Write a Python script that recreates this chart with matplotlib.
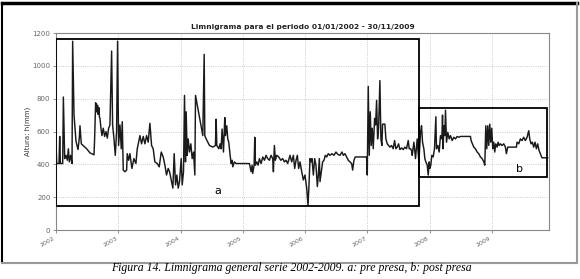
import matplotlib.pyplot as plt
from matplotlib.lines import Line2D
from matplotlib.patches import Rectangle
import numpy as np

t_2002 = [2002.000, 2002.011, 2002.048, 2002.059, 2002.070, 2002.107, 2002.118, 2002.139, 2002.160, 2002.182,
          2002.198, 2002.214, 2002.235, 2002.257, 2002.267, 2002.289, 2002.321, 2002.353, 2002.374, 2002.385,
          2002.406, 2002.492, 2002.545, 2002.610, 2002.620, 2002.636, 2002.642, 2002.648, 2002.654, 2002.663,
          2002.668, 2002.674, 2002.684, 2002.690, 2002.697, 2002.706, 2002.722,
          2002.738, 2002.759, 2002.781, 2002.802, 2002.824, 2002.845, 2002.866, 2002.882, 2002.893, 2002.909,
          2002.930, 2002.952, 2002.973, 2002.989, 2003.005, 2003.027, 2003.048, 2003.064, 2003.080, 2003.107,
          2003.134, 2003.144, 2003.166, 2003.187, 2003.219, 2003.251, 2003.283, 2003.305, 2003.326, 2003.348,
          2003.374, 2003.401, 2003.428, 2003.455, 2003.481, 2003.508, 2003.535, 2003.561, 2003.588, 2003.626,
          2003.658, 2003.690, 2003.722, 2003.749, 2003.775, 2003.802]
h_2002 = [525, 405, 405, 570, 405, 405, 810, 435, 455, 425,
          495, 415, 455, 405, 1150, 700, 540, 490, 560, 635,
          525, 495, 470, 458, 555, 775, 740, 770, 720, 750,
          760, 705, 720, 745, 690, 680, 620,
          575, 620, 570, 600, 560, 620, 640, 920, 1090, 640,
          560, 455, 600, 1150, 515, 640, 495, 660, 365, 355,
          365, 465, 425, 465, 375, 435, 405, 495, 535, 575,
          525, 570, 525, 575, 535, 650, 515, 495, 415, 405,
          385, 475, 445, 395, 335, 375]

t_2004 = [2003.824, 2003.850, 2003.877, 2003.898, 2003.920, 2003.941, 2003.963, 2003.984, 2004.011, 2004.027,
          2004.048, 2004.064, 2004.080, 2004.091, 2004.107, 2004.123, 2004.144, 2004.166, 2004.187, 2004.209,
          2004.230, 2004.241, 2004.358, 2004.380, 2004.390, 2004.412, 2004.465, 2004.519, 2004.561, 2004.572,
          2004.583, 2004.615, 2004.636, 2004.652, 2004.668, 2004.690, 2004.711, 2004.722, 2004.743, 2004.759,
          2004.775, 2004.797, 2004.813, 2004.829, 2004.840, 2004.866, 2004.893, 2005.107, 2005.134, 2005.150,
          2005.160, 2005.182, 2005.193, 2005.203, 2005.225, 2005.246, 2005.267, 2005.294, 2005.321, 2005.348,
          2005.374, 2005.401, 2005.428, 2005.455, 2005.481, 2005.492, 2005.508, 2005.524, 2005.545, 2005.578,
          2005.610, 2005.642, 2005.668, 2005.695, 2005.722]
h_2004 = [355, 305, 255, 465, 275, 335, 255, 295, 435, 275,
          355, 820, 415, 720, 455, 555, 475, 525, 435, 475,
          335, 820, 575, 1070, 575, 555, 515, 505, 515, 675,
          515, 495, 525, 495, 615, 475, 685, 575, 635, 555,
          535, 455, 405, 425, 385, 415, 405, 405, 355, 395,
          345, 395, 565, 395, 415, 395, 435, 405, 445, 425,
          455, 435, 425, 455, 435, 355, 515, 425, 455, 445,
          425, 435, 415, 425, 405]

t_2006 = [2005.759, 2005.786, 2005.813, 2005.834, 2005.856, 2005.877, 2005.898, 2005.920, 2005.947, 2005.973,
          2006.000, 2006.027, 2006.048, 2006.064, 2006.080, 2006.096, 2006.112, 2006.134, 2006.155, 2006.176,
          2006.198, 2006.214, 2006.230, 2006.241, 2006.262, 2006.283, 2006.305, 2006.326, 2006.348, 2006.374,
          2006.401, 2006.433, 2006.465, 2006.497, 2006.529, 2006.561, 2006.594, 2006.615, 2006.642, 2006.668,
          2006.695, 2006.722, 2006.749, 2006.765, 2006.786, 2006.807, 2006.989, 2007.000, 2007.016, 2007.032,
          2007.048, 2007.064, 2007.080, 2007.096, 2007.118, 2007.134, 2007.150, 2007.166, 2007.182, 2007.203,
          2007.219, 2007.235, 2007.246, 2007.283, 2007.299, 2007.321, 2007.342, 2007.364, 2007.390, 2007.417,
          2007.439, 2007.460, 2007.481, 2007.503, 2007.524, 2007.551, 2007.578, 2007.604, 2007.631, 2007.658,
          2007.674, 2007.695, 2007.711]
h_2006 = [455, 415, 455, 375, 425, 455, 375, 415, 355, 305,
          335, 255, 150, 275, 435, 415, 435, 335, 435, 395,
          265, 335, 435, 295, 355, 415, 425, 455, 445, 465,
          455, 465, 455, 475, 460, 455, 475, 455, 465, 445,
          425, 415, 405, 365, 425, 445, 445, 335, 875, 455,
          720, 515, 620, 495, 680, 640, 790, 555, 620, 910,
          555, 515, 645, 645, 555, 525, 515, 505, 515, 495,
          545, 495, 505, 525, 490, 500, 490, 505, 495, 545,
          495, 495, 485]

t_2008 = [2007.722, 2007.749, 2007.775, 2007.802, 2007.829, 2007.856, 2007.872, 2007.888, 2007.909, 2007.925,
          2007.941, 2007.963, 2007.979, 2007.995, 2008.005, 2008.021, 2008.037, 2008.059, 2008.080, 2008.102,
          2008.112, 2008.134, 2008.155, 2008.176, 2008.198, 2008.209, 2008.219, 2008.230, 2008.246, 2008.257,
          2008.273, 2008.294, 2008.316, 2008.337, 2008.364, 2008.390, 2008.417, 2008.444, 2008.471, 2008.497,
          2008.658, 2008.668, 2008.690, 2008.711, 2008.738, 2008.765, 2008.791, 2008.818, 2008.845, 2008.872,
          2008.888, 2008.904, 2008.920, 2008.936, 2008.952, 2008.968, 2008.984, 2009.000, 2009.016, 2009.032,
          2009.048, 2009.064, 2009.086, 2009.102, 2009.118, 2009.139, 2009.166, 2009.193, 2009.219, 2009.235,
          2009.257, 2009.396, 2009.406, 2009.433, 2009.460, 2009.487, 2009.513, 2009.540, 2009.567, 2009.594,
          2009.610, 2009.631, 2009.652, 2009.674, 2009.695, 2009.717, 2009.738, 2009.759, 2009.781, 2009.807,
          2009.898]
h_2008 = [455, 535, 435, 555, 415, 595, 635, 535, 495, 435,
          415, 395, 335, 415, 375, 395, 455, 445, 495, 690,
          495, 515, 475, 575, 555, 700, 495, 635, 575, 730,
          535, 595, 555, 575, 545, 565, 555, 570, 565, 570,
          570, 545, 525, 505, 495, 475, 465, 445, 435, 415,
          395, 635, 495, 635, 515, 645, 535, 620, 495, 535,
          475, 525, 505, 535, 515, 525, 515, 525, 505, 465,
          505, 505, 535, 525, 555, 545, 565, 545, 565, 605,
          555, 525, 535, 505, 535, 495, 525, 485, 465, 440,
          440]

anios = [2002, 2003, 2004, 2005, 2006, 2007, 2008, 2009]
niveles_y = [0, 200, 400, 600, 800, 1000, 1200]

# recuadros a: pre presa, b: post presa  (x0, x1, y0, y1)
caja_a = (2002.0, 2007.83, 145, 1165)
caja_b = (2007.83, 2009.89, 325, 745)

t = np.concatenate([t_2002, t_2004, t_2006, t_2008])
h = np.concatenate([h_2002, h_2004, h_2006, h_2008])

fig = plt.figure(figsize=(5.8, 2.79), dpi=100)
ax = fig.add_axes([0.0966, 0.1756, 0.85, 0.706])

ax.plot(t, h, color='#1a1a1a', linewidth=1.05)

for (x0, x1, y0, y1) in [caja_a, caja_b]:
    ax.add_patch(Rectangle((x0, y0), x1 - x0, y1 - y0, fill=False, edgecolor='black', linewidth=1.3, zorder=3))

ax.text(2004.6, 240, 'a', fontsize=8, ha='center', va='center')
ax.text(2009.45, 372, 'b', fontsize=8, ha='center', va='center',
        bbox=dict(facecolor='white', edgecolor='none', pad=1.5), zorder=4)

ax.set_xlim(2002.0, 2009.92)
ax.set_ylim(0, 1200)
ax.set_xticks(anios)
ax.set_xticklabels([str(a) for a in anios], rotation=30, ha='right', fontsize=4.5, color='#444')
ax.set_yticks(niveles_y)
ax.set_yticklabels([str(v) for v in niveles_y], fontsize=5, color='#333')
ax.tick_params(length=2, width=0.5, colors='#666', pad=2)
ax.grid(True, linestyle=':', color='#bbbbbb', linewidth=0.6)
for s in ax.spines.values():
    s.set_color('#888888')
    s.set_linewidth(0.8)

ax.set_title('Limnigrama para el periodo 01/01/2002 - 30/11/2009', fontsize=5.4, fontweight='bold',
             color='#222', pad=3)
ax.set_ylabel('Altura: h(mm)', fontsize=5, color='#333', labelpad=1)

# marco exterior de la figura
fig.add_artist(Line2D([0.003, 0.995], [0.989, 0.989], color='black', linewidth=2.5))
fig.add_artist(Line2D([0.004, 0.004], [0.989, 0.057], color='black', linewidth=1.5))
fig.add_artist(Line2D([0.995, 0.995], [0.989, 0.057], color='#999999', linewidth=1.5))
fig.add_artist(Line2D([0.004, 0.995], [0.057, 0.057], color='#999999', linewidth=1.5))

fig.text(0.502, 0.038, 'Figura 14. Limnigrama general serie 2002-2009. a: pre presa, b: post presa',
         fontsize=8.5, family='Liberation Serif', style='italic', ha='center', va='center')

plt.savefig('out.png', dpi=100)
